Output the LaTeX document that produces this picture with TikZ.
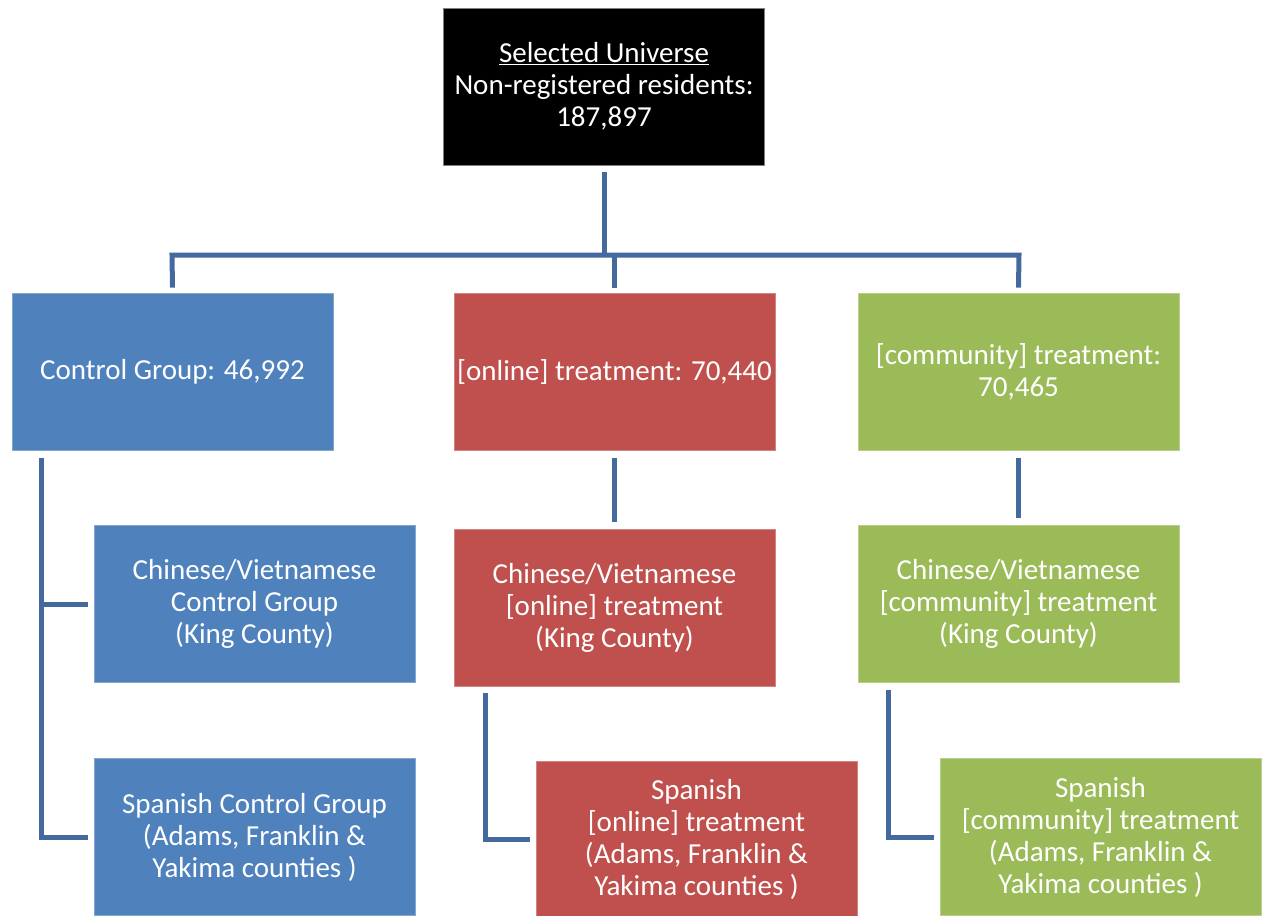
\documentclass[tikz,border=0pt]{standalone}
\usepackage{fontspec}
\setmainfont{Carlito}
\definecolor{cblue}{HTML}{4F81BD}
\definecolor{cred}{HTML}{C0504D}
\definecolor{cgreen}{HTML}{9BBB59}
\definecolor{cline}{HTML}{44699E}
\begin{document}
\begin{tikzpicture}[x=1pt,y=-1pt,
  box/.style={minimum width=321pt,minimum height=157pt,inner sep=0pt,align=center,text=white,
    font=\fontsize{29}{32}\selectfont},
  bbox/.style={box,fill=cblue,draw=cblue!70!white,line width=0.8pt},
  rbox/.style={box,fill=cred,draw=cred!70!white,line width=0.8pt},
  gbox/.style={box,fill=cgreen,draw=cgreen!70!white,line width=0.8pt},
  conn/.style={draw=cline,line width=5pt}]
\useasboundingbox (0,0) rectangle (1262,916);
\node[box,fill=black,draw=gray,line width=0.8pt] (top) at (604,86.5) {\underline{Selected Universe}\\Non-registered residents:\\187,897};
\node[bbox] (ctrl) at (172.5,372) {Control Group: 46,992};
\node[rbox] (onl) at (614.5,372) {[online] treatment: 70,440};
\node[gbox] (com) at (1018.5,372) {[community] treatment:\\70,465};
\node[bbox] (cc) at (254.5,604) {Chinese/Vietnamese\\Control Group\\(King County)};
\node[bbox] (sc) at (254.5,837) {Spanish Control Group\\(Adams, Franklin \&\\Yakima counties )};
\node[rbox] (co) at (614.5,607.5) {Chinese/Vietnamese\\{[online]} treatment\\(King County)};
\node[rbox] (so) at (696.5,839.5) {Spanish\\{[online]} treatment\\(Adams, Franklin \&\\Yakima counties )};
\node[gbox] (cm) at (1018.5,604) {Chinese/Vietnamese\\{[community]} treatment\\(King County)};
\node[gbox] (sm) at (1100.5,837) {Spanish\\{[community]} treatment\\(Adams, Franklin \&\\Yakima counties )};
% top level connectors
\coordinate (hL) at (172,255);
\coordinate (hR) at (1019,255);
\draw[conn] ([yshift=-7pt]top.south) -- (top.south |- hL);
\draw[conn] ([yshift=5.5pt]ctrl.north) -- (hL) -- (hR) -- ([yshift=5.5pt]com.north);
\draw[conn] (onl.north |- hL) -- ([yshift=5.5pt]onl.north);
% control branch
\coordinate (ct) at ([xshift=30pt,yshift=-7pt]ctrl.south west);
\draw[conn] (ct) |- ([xshift=-6pt]sc.west);
\draw[conn] ([xshift=-6pt]cc.west) -- (cc.west -| ct);
% online branch
\draw[conn] ([yshift=-7pt]onl.south) -- ([yshift=7pt]co.north);
\draw[conn] ([xshift=32pt,yshift=-7pt]co.south west) |- ([xshift=-6pt]so.west);
% community branch
\draw[conn] ([yshift=-7pt]com.south) -- ([yshift=7pt]cm.north);
\draw[conn] ([xshift=31pt,yshift=-7pt]cm.south west) |- ([xshift=-6pt]sm.west);
\end{tikzpicture}
\end{document}
